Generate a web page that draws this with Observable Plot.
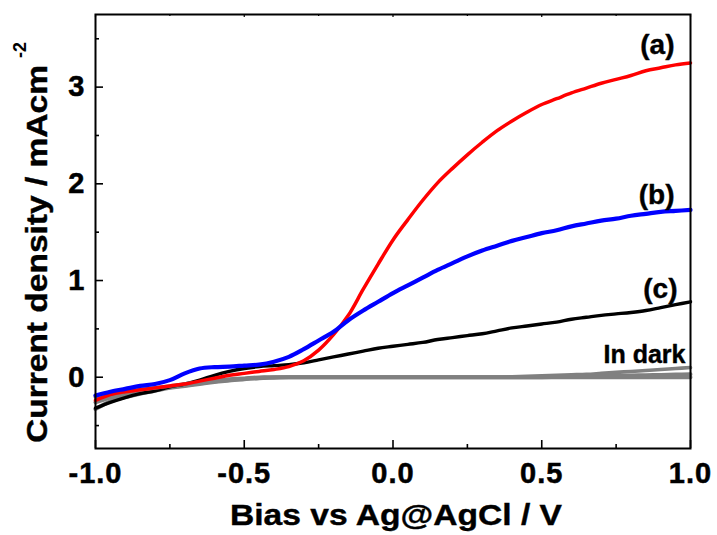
<!DOCTYPE html>
<html>
<head>
<meta charset="utf-8">
<script src="https://cdn.jsdelivr.net/npm/d3@7"></script>
<script src="https://cdn.jsdelivr.net/npm/@observablehq/plot@0.6"></script>
<style>
  html, body { margin: 0; padding: 0; background: #fff; }
  svg { display: block; }
</style>
</head>
<body>
<div id="chart"></div>
<script>
// ---- data ----
const bias = [-1.00,-0.95,-0.90,-0.85,-0.80,-0.75,-0.70,-0.65,-0.60,-0.55,-0.50,-0.45,-0.40,-0.35,-0.30,-0.25,-0.20,-0.15,-0.10,-0.05,
  0.00,0.05,0.10,0.15,0.20,0.25,0.30,0.35,0.40,0.45,0.50,0.55,0.60,0.65,0.70,0.75,0.80,0.85,0.90,0.95,1.00];
const curveA = [-0.24,-0.18,-0.15,-0.13,-0.11,-0.09,-0.07,-0.04,-0.01,0.02,0.04,0.06,0.08,0.11,0.17,0.28,0.44,0.64,0.91,1.17,
  1.42,1.63,1.83,2.01,2.16,2.30,2.43,2.55,2.65,2.74,2.82,2.88,2.94,2.99,3.04,3.08,3.12,3.17,3.20,3.23,3.25];
const curveB = [-0.19,-0.15,-0.12,-0.09,-0.07,-0.03,0.04,0.09,0.105,0.11,0.12,0.13,0.16,0.21,0.29,0.38,0.47,0.59,0.69,0.78,
  0.87,0.95,1.03,1.11,1.18,1.25,1.31,1.36,1.41,1.45,1.49,1.52,1.56,1.59,1.62,1.64,1.67,1.69,1.71,1.72,1.73];
const curveC = [-0.32,-0.26,-0.21,-0.17,-0.14,-0.10,-0.07,-0.03,0.02,0.06,0.09,0.11,0.12,0.13,0.15,0.18,0.21,0.24,0.27,0.30,
  0.32,0.34,0.36,0.39,0.41,0.43,0.45,0.48,0.51,0.53,0.55,0.57,0.60,0.62,0.64,0.655,0.67,0.69,0.72,0.75,0.78];
const dark1 = [-0.21,-0.17,-0.15,-0.13,-0.11,-0.09,-0.07,-0.05,-0.03,-0.02,-0.01,0,0,0,0,0,0,0,0,0,
  0,0,0,0,0,0,0,0,0.005,0.01,0.015,0.02,0.025,0.03,0.04,0.05,0.06,0.07,0.08,0.09,0.10];
const dark2 = [-0.26,-0.21,-0.175,-0.15,-0.125,-0.105,-0.085,-0.062,-0.042,-0.028,-0.018,-0.008,0,0,0,0,0,0,0,0,
  0,0,0,0,0,0,0,0,0,0,0,0.003,0.006,0.009,0.012,0.015,0.018,0.021,0.024,0.027,0.03];
const dark3 = [-0.33,-0.25,-0.205,-0.17,-0.14,-0.11,-0.09,-0.07,-0.05,-0.035,-0.02,-0.01,-0.005,0,0,0,0,0,0,0,
  0,0,0,0,0,0,0,0,0,0,0,0,0,0,0,0,0,0,0,0,0];

const xMajor = [-1.0,-0.5,0.0,0.5,1.0];
const xMinor = [-0.75,-0.25,0.25,0.75];
const yMajor = [0,1,2,3];
const yMinor = [-0.5,0.5,1.5,2.5,3.5];
const xTitle = "Bias vs Ag@AgCl / V";
const yTitle = "Current density / mAcm";
const yTitleSup = "-2";

const seriesDefs = [
  {name: "In dark 3", values: dark3, color: "#808080", width: 4, label: null},
  {name: "In dark 2", values: dark2, color: "#808080", width: 4, label: null},
  {name: "(c)", values: curveC, color: "#000000", width: 3.4, label: "(c)", dx: -13, dy: -4},
  {name: "In dark", values: dark1, color: "#808080", width: 3.6, label: "In dark", dx: -5, dy: -5, fs: 25},
  {name: "(a)", values: curveA, color: "#ff0000", width: 3.5, label: "(a)", dx: -16, dy: -9},
  {name: "(b)", values: curveB, color: "#0000ff", width: 4.2, label: "(b)", dx: -16, dy: -6}
];

// ---- layout ----
const W = 717, H = 535;
const mL = 95, mR = 27, mT = 14, mB = 87;
const innerW = W - mL - mR, innerH = H - mT - mB;
const font = "'Liberation Sans', Arial, Helvetica, sans-serif";

const lineMarks = [];
const labelMarks = [];
for (const s of seriesDefs) {
  const rows = bias.map((b, i) => ({x: b, y: s.values[i]}));
  lineMarks.push(Plot.line(rows, {x: "x", y: "y", stroke: s.color, strokeWidth: s.width, curve: "catmull-rom"}));
  if (s.label) {
    const last = rows[rows.length - 1];
    labelMarks.push(Plot.text([last], {x: "x", y: "y", text: () => s.label, textAnchor: "end", lineAnchor: "bottom",
      dx: s.dx, dy: s.dy, fontSize: s.fs || 28, fontWeight: "bold", fill: "black", stroke: "black", strokeWidth: 0.4}));
  }
}

const svg = Plot.plot({
  width: W, height: H,
  marginLeft: mL, marginRight: mR, marginTop: mT, marginBottom: mB,
  x: {domain: [-1, 1]},
  y: {domain: [-0.737, 3.751]},
  style: {fontFamily: font, fontWeight: "bold", background: "#fff", color: "#000", overflow: "visible"},
  marks: [
    ...lineMarks,
    // inward ticks
    Plot.ruleX(xMajor, {x: d => d, insetTop: innerH - 8, stroke: "black", strokeWidth: 1.6}),
    Plot.ruleX(xMinor, {x: d => d, insetTop: innerH - 4, stroke: "black", strokeWidth: 1.6}),
    Plot.ruleX(xMajor, {x: d => d, insetBottom: innerH - 3, stroke: "black", strokeWidth: 1.2}),
    Plot.ruleX(xMinor, {x: d => d, insetBottom: innerH - 2, stroke: "black", strokeWidth: 1.2}),
    Plot.ruleY(yMajor, {y: d => d, insetRight: innerW - 8, stroke: "black", strokeWidth: 1.6}),
    Plot.ruleY(yMinor, {y: d => d, insetRight: innerW - 4, stroke: "black", strokeWidth: 1.6}),
    Plot.axisX({ticks: xMajor, tickSize: 0, tickPadding: 14, tickFormat: d => d.toFixed(1), fontSize: 29, fontWeight: "bold", label: null}),
    Plot.axisY({ticks: yMajor, tickSize: 0, tickPadding: 10, tickFormat: d => String(d), fontSize: 29, fontWeight: "bold", label: null}),
    Plot.frame({stroke: "black", strokeWidth: 2}),
    ...labelMarks
  ]
});

const s = d3.select(svg);
s.selectAll("g[aria-label='x-axis tick label'] text, g[aria-label='y-axis tick label'] text")
  .attr("font-size", 29).attr("letter-spacing", "1px").attr("stroke", "black").attr("stroke-width", 0.5);
s.append("text")
  .attr("x", 396).attr("y", 525)
  .attr("text-anchor", "middle")
  .attr("font-family", font).attr("font-weight", "bold").attr("font-size", 30)
  .attr("textLength", 332).attr("lengthAdjust", "spacingAndGlyphs")
  .attr("fill", "black").attr("stroke", "black").attr("stroke-width", 0.4)
  .text(xTitle);
s.append("text")
  .attr("transform", "translate(47,443) rotate(-90)")
  .attr("text-anchor", "start")
  .attr("font-family", font).attr("font-weight", "bold").attr("font-size", 30)
  .attr("textLength", 378).attr("lengthAdjust", "spacingAndGlyphs")
  .attr("fill", "black").attr("stroke", "black").attr("stroke-width", 0.4)
  .text(yTitle);
s.append("text")
  .attr("transform", "translate(26,58) rotate(-90)")
  .attr("text-anchor", "start")
  .attr("font-family", font).attr("font-weight", "bold").attr("font-size", 18)
  .attr("fill", "black")
  .text(yTitleSup);

document.getElementById("chart").appendChild(svg);
</script>
</body>
</html>
